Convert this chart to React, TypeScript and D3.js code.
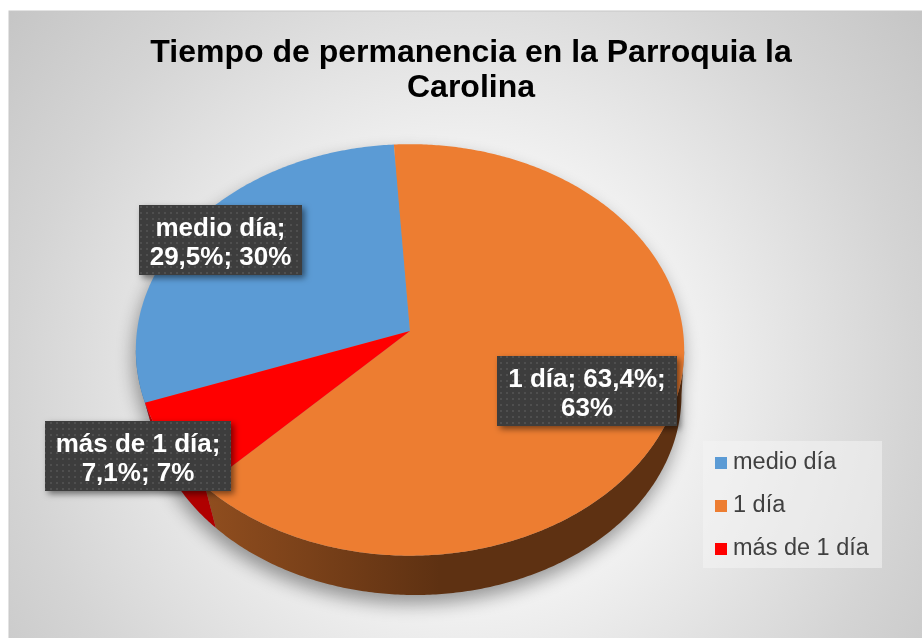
import React from "react";
import * as d3 from "d3";

const categories = ["medio día", "1 día", "más de 1 día"];
const values = [29.5, 63.4, 7.1];
const rounded = [30, 63, 7];
const topColors = ["#5B9BD5", "#ED7D31", "#FF0000"];
const sideColors = ["#3E6E9A", "url(#orangeSide)", "#B00000"];
const labelBreaks = [1, 2, 1];
const titleLines = ["Tiempo de permanencia en la Parroquia la", "Carolina"];

const W = 922;
const H = 638;
const cx = 410;
const cy = 331;
const Rx = 273;
const Ry = 204;
const persp = 0.092;
const rotation = (-109.9 * Math.PI) / 180;
// bottom disk (slightly farther from the camera)
const bScale = 0.972;
const bShiftX = 5;
const bottomY = 595;

const labelBoxes = [
  { x: 139, y: 205, w: 163, h: 70 },
  { x: 497, y: 356, w: 180, h: 70 },
  { x: 45, y: 421, w: 186, h: 70 },
];

function proj(a: number, bottom = false): [number, number] {
  const u = Math.sin(a);
  const v = -Math.cos(a);
  const w = 1 - persp * v;
  if (!bottom) return [cx + (Rx * u) / w, cy + (Ry * v) / w];
  const cyB = bottomY - (bScale * Ry) / (1 - persp);
  return [cx + bShiftX + (bScale * Rx * u) / w, cyB + (bScale * Ry * v) / w];
}

function arcPts(a0: number, a1: number, bottom = false): [number, number][] {
  const n = Math.max(2, Math.ceil(Math.abs(a1 - a0) / 0.01));
  const pts: [number, number][] = [];
  for (let i = 0; i <= n; i++) pts.push(proj(a0 + ((a1 - a0) * i) / n, bottom));
  return pts;
}

const fmt = (v: number) => String(v).replace(".", ",");

export default function App() {
  const arcs = d3
    .pie<number>()
    .sort(null)
    .startAngle(rotation)
    .endAngle(rotation + 2 * Math.PI)(values);

  const line = d3.line<[number, number]>();
  const frontA = Math.acos(-persp);
  const frontB = 2 * Math.PI - frontA;

  const sides: { d: string; fill: string }[] = [];
  arcs.forEach((a, i) => {
    for (const k of [-1, 0, 1]) {
      const s = Math.max(a.startAngle, frontA + 2 * Math.PI * k);
      const e = Math.min(a.endAngle, frontB + 2 * Math.PI * k);
      if (e > s) {
        const top = arcPts(s, e);
        const bot = arcPts(s, e, true).reverse();
        sides.push({ d: line([...top, ...bot])! + "Z", fill: sideColors[i] });
      }
    }
  });

  const tops = arcs.map((a, i) => ({
    d: line([[cx, cy], ...arcPts(a.startAngle, a.endAngle)])! + "Z",
    fill: topColors[i],
  }));

  const fullTop = line(arcPts(0, 2 * Math.PI))! + "Z";
  const fullBot = line(arcPts(0, 2 * Math.PI, true))! + "Z";

  const labels = arcs.map((a, i) => {
    const parts = [
      `${categories[i]};`,
      `${fmt(values[i])}%;`,
      `${rounded[i]}%`,
    ];
    const b = labelBreaks[i];
    return [parts.slice(0, b).join(" "), parts.slice(b).join(" ")];
  });

  const legendY = [469, 512, 555];

  return (
    <div style={{ position: "fixed", left: 0, top: 0 }}>
      <svg width={W} height={H} style={{ display: "block" }}>
        <defs>
          <radialGradient id="bg" gradientUnits="userSpaceOnUse" cx={465} cy={380} r={600}>
            <stop offset="0" stopColor="#ffffff" />
            <stop offset="0.35" stopColor="#f3f3f3" />
            <stop offset="0.75" stopColor="#d4d4d4" />
            <stop offset="1" stopColor="#c4c4c4" />
          </radialGradient>
          <linearGradient id="orangeSide" gradientUnits="userSpaceOnUse" x1={200} x2={440} y1={0} y2={0}>
            <stop offset="0" stopColor="#914E1F" />
            <stop offset="1" stopColor="#5E3112" />
          </linearGradient>
          <pattern id="dots" width={6} height={6} patternUnits="userSpaceOnUse">
            <rect width={6} height={6} fill="#3c3c3c" />
            <circle cx={3} cy={3} r={0.9} fill="#585858" />
          </pattern>
          <filter id="pieShadow" x="-20%" y="-20%" width="140%" height="140%">
            <feGaussianBlur stdDeviation={9} />
          </filter>
          <filter id="boxShadow" x="-20%" y="-20%" width="140%" height="150%">
            <feDropShadow dx={3} dy={3} stdDeviation={3} floodColor="#000" floodOpacity={0.5} />
          </filter>
        </defs>
        <rect x={9} y={11} width={W} height={H} fill="url(#bg)" stroke="#c8c8c8" strokeWidth={1} />
        <g fontFamily="'Liberation Sans', Arial, sans-serif">
          {titleLines.map((t, i) => (
            <text key={i} x={471} y={62 + i * 35} textAnchor="middle" fontSize={32} fontWeight="bold" fill="#000">
              {t}
            </text>
          ))}
          <g filter="url(#pieShadow)" opacity={0.38} transform="translate(-2,9)">
            <path d={fullTop} fill="#000" />
            <path d={fullBot} fill="#000" />
          </g>
          {sides.map((s, i) => (
            <path key={"s" + i} d={s.d} fill={s.fill} />
          ))}
          {tops.map((t, i) => (
            <path key={"t" + i} d={t.d} fill={t.fill} />
          ))}
          {labels.map((ls, i) => {
            const b = labelBoxes[i];
            const mid = b.y + b.h / 2;
            return (
              <g key={"l" + i}>
                <rect x={b.x} y={b.y} width={b.w} height={b.h} fill="url(#dots)" filter="url(#boxShadow)" />
                {ls.map((t, j) => (
                  <text key={j} x={b.x + b.w / 2} y={mid - 4 + j * 29} textAnchor="middle" fontSize={26} fontWeight="bold" fill="#fff">
                    {t}
                  </text>
                ))}
              </g>
            );
          })}
          <rect x={703} y={441} width={179} height={127} fill="#f4f4f4" opacity={0.55} />
          {categories.map((c, i) => (
            <g key={"lg" + i}>
              <rect x={715} y={legendY[i] - 12} width={12} height={12} fill={topColors[i]} />
              <text x={733} y={legendY[i]} fontSize={23.5} fill="#404040">
                {c}
              </text>
            </g>
          ))}
        </g>
      </svg>
    </div>
  );
}
